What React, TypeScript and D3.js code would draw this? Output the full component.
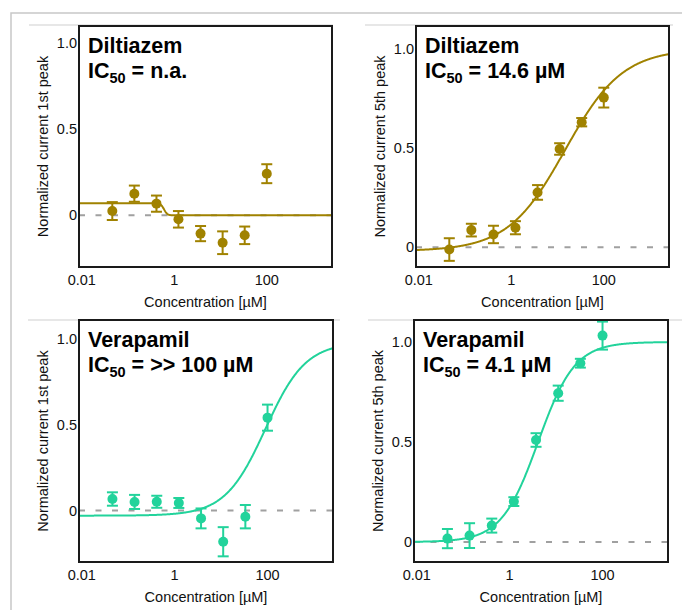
import React from "react";
import * as d3 from "d3";

// ---------- data ----------
const concentrations = [0.0457, 0.137, 0.412, 1.23, 3.7, 11.1, 33.3, 100];

const diltiazemPeak1 = [0.025, 0.126, 0.068, -0.023, -0.106, -0.159, -0.116, 0.242];
const diltiazemPeak1Err = [0.052, 0.047, 0.047, 0.048, 0.044, 0.066, 0.051, 0.055];

const diltiazemPeak5 = [-0.012, 0.086, 0.064, 0.098, 0.276, 0.495, 0.63, 0.754];
const diltiazemPeak5Err = [0.057, 0.032, 0.044, 0.033, 0.037, 0.029, 0.021, 0.05];

const verapamilPeak1 = [0.067, 0.05, 0.051, 0.044, -0.046, -0.182, -0.036, 0.541];
const verapamilPeak1Err = [0.039, 0.041, 0.035, 0.029, 0.058, 0.085, 0.068, 0.076];

const verapamilPeak5 = [0.017, 0.032, 0.082, 0.202, 0.51, 0.744, 0.894, 1.032];
const verapamilPeak5Err = [0.048, 0.062, 0.035, 0.022, 0.034, 0.038, 0.022, 0.07];

// Hill fit parameters: [low-concentration level, high-concentration level, IC50, Hill slope]
const fitDiltiazemPeak1 = [0.07, 0.0, 0.6, 12];
const fitDiltiazemPeak5 = [-0.02, 1.0, 14.6, 0.7];
const fitVerapamilPeak1 = [-0.03, 0.98, 90, 1.0];
const fitVerapamilPeak5 = [0.0, 1.0, 4.1, 1.1];

const xTickValues = [0.01, 1, 100];
const xTickLabels = ["0.01", "1", "100"];
const yTickValues = [0, 0.5, 1];
const yTickLabels = ["0", "0.5", "1.0"];

const drugNames = ["Diltiazem", "Diltiazem", "Verapamil", "Verapamil"];
const ic50Texts = [" = n.a.", " = 14.6 µM", " = >> 100 µM", " = 4.1 µM"];
const yTitles = [
  "Normalized current 1st peak",
  "Normalized current 5th peak",
  "Normalized current 1st peak",
  "Normalized current 5th peak",
];

const DIL = "#a08200";
const VER = "#22d39b";
const FONT = "'Liberation Sans', Arial, Helvetica, sans-serif";

const X_DOMAIN = [Math.pow(10, -2.06), Math.pow(10, 3.41)];

type PanelProps = {
  id: string;
  x0: number;
  x1: number;
  y0: number;
  y1: number;
  yDomain: [number, number];
  values: number[];
  errs: number[];
  fit: number[];
  color: string;
  name: string;
  ic50: string;
  yTitle: string;
};

function Panel(p: PanelProps) {
  const x = d3.scaleLog().domain(X_DOMAIN).range([p.x0, p.x1]);
  const y = d3.scaleLinear().domain(p.yDomain).range([p.y1, p.y0]);
  const [lo, hi, ic, n] = p.fit;
  const hill = (c: number) => lo + (hi - lo) / (1 + Math.pow(ic / c, n));
  const lx0 = Math.log10(X_DOMAIN[0]);
  const lx1 = Math.log10(X_DOMAIN[1]);
  const samples = d3.range(0, 601).map((i) => Math.pow(10, lx0 + ((lx1 - lx0) * i) / 600));
  const line = d3
    .line<number>()
    .x((c) => x(c))
    .y((c) => y(hill(c)));
  const cap = 5.5;
  const fs = 14.5;
  const tfs = 21.5;
  return (
    <g>
      <defs>
        <clipPath id={p.id}>
          <rect x={p.x0} y={p.y0} width={p.x1 - p.x0} height={p.y1 - p.y0} />
        </clipPath>
      </defs>
      <g clipPath={`url(#${p.id})`}>
        <line
          x1={p.x0}
          x2={p.x1}
          y1={y(0)}
          y2={y(0)}
          stroke="#a0a0a0"
          strokeWidth={2}
          strokeDasharray="6 10.5"
        />
        <path d={line(samples) || ""} fill="none" stroke={p.color} strokeWidth={2} />
        {concentrations.map((c, i) => (
          <g key={i} stroke={p.color} strokeWidth={2}>
            <line x1={x(c)} x2={x(c)} y1={y(p.values[i] + p.errs[i])} y2={y(p.values[i] - p.errs[i])} />
            <line x1={x(c) - cap} x2={x(c) + cap} y1={y(p.values[i] + p.errs[i])} y2={y(p.values[i] + p.errs[i])} />
            <line x1={x(c) - cap} x2={x(c) + cap} y1={y(p.values[i] - p.errs[i])} y2={y(p.values[i] - p.errs[i])} />
          </g>
        ))}
        {concentrations.map((c, i) => (
          <circle key={i} cx={x(c)} cy={y(p.values[i])} r={5} fill={p.color} />
        ))}
      </g>
      <rect
        x={p.x0}
        y={p.y0}
        width={p.x1 - p.x0}
        height={p.y1 - p.y0}
        fill="none"
        stroke="#1a1a1a"
        strokeWidth={2}
      />
      {yTickValues.map((v, i) => (
        <text
          key={i}
          x={p.x0 - 2}
          y={y(v)}
          textAnchor="end"
          dominantBaseline="central"
          fontSize={fs}
          fontFamily={FONT}
          fill="#111"
        >
          {yTickLabels[i]}
        </text>
      ))}
      {xTickValues.map((v, i) => (
        <text
          key={i}
          x={x(v)}
          y={p.y1 + 18}
          textAnchor="middle"
          fontSize={fs}
          fontFamily={FONT}
          fill="#111"
        >
          {xTickLabels[i]}
        </text>
      ))}
      <text
        x={(p.x0 + p.x1) / 2}
        y={p.y1 + 40}
        textAnchor="middle"
        fontSize={fs}
        fontFamily={FONT}
        fill="#111"
      >
        Concentration [µM]
      </text>
      <text
        transform={`translate(${p.x0 - 36},${(p.y0 + p.y1) / 2}) rotate(-90)`}
        textAnchor="middle"
        dominantBaseline="central"
        fontSize={fs}
        fontFamily={FONT}
        fill="#111"
      >
        {p.yTitle}
      </text>
      <text x={p.x0 + 9} y={p.y0 + 27} fontSize={tfs} fontWeight="bold" fontFamily={FONT} fill="#000">
        {p.name}
      </text>
      <text
        x={p.x0 + 9}
        y={p.y0 + 52}
        fontSize={tfs}
        fontWeight="bold"
        fontFamily={FONT}
        fill="#000"
        style={{ whiteSpace: "pre" }}
      >
        <tspan>IC</tspan>
        <tspan fontSize={14.5} dy={5}>
          50
        </tspan>
        <tspan dy={-5}>{p.ic50}</tspan>
      </text>
    </g>
  );
}

export default function App() {
  return (
    <svg
      width={682}
      height={610}
      viewBox="0 0 682 610"
      style={{ position: "absolute", left: 0, top: 0, background: "#fff" }}
    >
      <rect x={0} y={0} width={682} height={610} fill="#fff" />
      <path d="M11,610 V13 H682" fill="none" stroke="#c8c8c8" strokeWidth={1.5} />
      <line x1={29} x2={333} y1={25} y2={25} stroke="#cfcfcf" strokeWidth={1} />
      <line x1={365} x2={673} y1={25} y2={25} stroke="#cfcfcf" strokeWidth={1} />
      <line x1={28} x2={340} y1={320} y2={320} stroke="#cfcfcf" strokeWidth={1} />
      <line x1={368} x2={682} y1={320} y2={320} stroke="#cfcfcf" strokeWidth={1} />
      <Panel
        id="c1"
        x0={79}
        x1={332}
        y0={26}
        y1={267}
        yDomain={[-0.3, 1.1]}
        values={diltiazemPeak1}
        errs={diltiazemPeak1Err}
        fit={fitDiltiazemPeak1}
        color={DIL}
        name={drugNames[0]}
        ic50={ic50Texts[0]}
        yTitle={yTitles[0]}
      />
      <Panel
        id="c2"
        x0={416}
        x1={669}
        y0={26}
        y1={267}
        yDomain={[-0.1, 1.115]}
        values={diltiazemPeak5}
        errs={diltiazemPeak5Err}
        fit={fitDiltiazemPeak5}
        color={DIL}
        name={drugNames[1]}
        ic50={ic50Texts[1]}
        yTitle={yTitles[1]}
      />
      <Panel
        id="c3"
        x0={79}
        x1={333}
        y0={320}
        y1={562}
        yDomain={[-0.3, 1.11]}
        values={verapamilPeak1}
        errs={verapamilPeak1Err}
        fit={fitVerapamilPeak1}
        color={VER}
        name={drugNames[2]}
        ic50={ic50Texts[2]}
        yTitle={yTitles[2]}
      />
      <Panel
        id="c4"
        x0={414}
        x1={668}
        y0={320}
        y1={562}
        yDomain={[-0.1, 1.11]}
        values={verapamilPeak5}
        errs={verapamilPeak5Err}
        fit={fitVerapamilPeak5}
        color={VER}
        name={drugNames[3]}
        ic50={ic50Texts[3]}
        yTitle={yTitles[3]}
      />
    </svg>
  );
}
